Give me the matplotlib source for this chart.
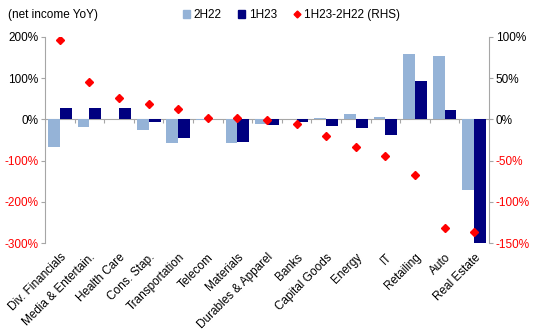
import numpy as np
import matplotlib.pyplot as plt
from matplotlib.lines import Line2D
from matplotlib.patches import Patch
from matplotlib.ticker import FuncFormatter

plt.rcParams['font.family'] = ['Liberation Sans', 'DejaVu Sans']

categories = ['Div. Financials', 'Media & Entertain.', 'Health Care', 'Cons. Stap.',
              'Transportation', 'Telecom', 'Materials', 'Durables & Apparel', 'Banks',
              'Capital Goods', 'Energy', 'IT', 'Retailing', 'Auto', 'Real Estate']
h2_22 = [-66, -19, 0, -25, -57, -1, -57, -10, 0, 4, 14, 7, 158, 155, -171]
h1_23 = [28, 27, 27, -6, -44, 0, -54, -13, -7, -16, -20, -38, 92, 24, -310]
diff_rhs = [96, 45, 26, 19, 13, 2, 2, -1, -6, -20, -34, -44, -67, -132, -137]

light = '#95B3D7'
navy = '#00007F'
red = '#FF0000'
grey = '#A6A6A6'
fs = 8.5

fig = plt.figure(figsize=(5.5, 3.33), dpi=100)
ax = fig.add_axes([0.082, 0.27, 0.807, 0.619])
ax2 = ax.twinx()

x = np.arange(len(categories))
w = 0.4
ax.bar(x - w/2, h2_22, w, color=light, zorder=2)
ax.bar(x + w/2, h1_23, w, color=navy, zorder=2)
ax.axhline(0, color=grey, lw=0.8, zorder=1)
# small ticks on zero line between categories
ax.plot(np.arange(len(categories) + 1) - 0.5, np.zeros(len(categories) + 1),
        ls='None', marker=3, ms=3, mew=0.8, color=grey, zorder=1)
ax2.plot(x, diff_rhs, ls='None', marker='D', ms=4.5, color=red, zorder=3)

ax.set_xlim(-0.5, len(categories) - 0.5)
ax.set_ylim(-300, 200)
ax2.set_ylim(-150, 100)
ax.set_yticks(np.arange(-300, 201, 100))
ax2.set_yticks(np.arange(-150, 101, 50))
fmt = FuncFormatter(lambda v, p: '%d%%' % v)
ax.yaxis.set_major_formatter(fmt)
ax2.yaxis.set_major_formatter(fmt)

for a in (ax, ax2):
    for s in ('top', 'bottom'):
        a.spines[s].set_visible(False)
    a.spines['left'].set_color(grey)
    a.spines['right'].set_color(grey)
    a.tick_params(axis='y', labelsize=fs, length=3, color=grey, pad=2)
ax2.spines['left'].set_visible(False)
ax.spines['right'].set_visible(False)

ax.set_xticks(x)
ax.set_xticklabels(categories, rotation=45, ha='right', rotation_mode='anchor', fontsize=fs)
ax.tick_params(axis='x', length=0, pad=6)

fig.canvas.draw()
for a in (ax, ax2):
    for lbl in a.get_yticklabels():
        t = lbl.get_text()
        if t.startswith('-') or t.startswith('\u2212'):
            lbl.set_color(red)

fig.text(0.015, 0.955, '(net income YoY)', fontsize=fs, va='center')
handles = [Patch(color=light, label='2H22'), Patch(color=navy, label='1H23'),
           Line2D([], [], ls='None', marker='D', ms=3.5, color=red, label='1H23-2H22 (RHS)')]
fig.legend(handles=handles, loc='center', bbox_to_anchor=(0.53, 0.955), ncol=3, frameon=False,
           fontsize=fs, handlelength=0.6, handleheight=0.6, handletextpad=0.3, columnspacing=1.4)

fig.savefig('out.png', dpi=100)
